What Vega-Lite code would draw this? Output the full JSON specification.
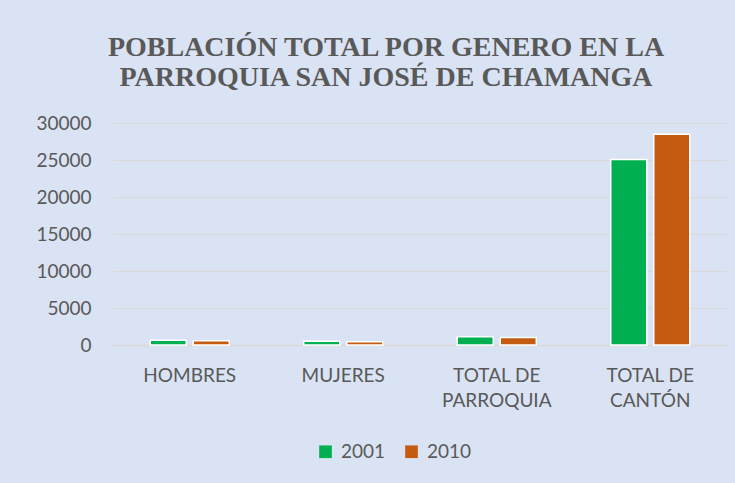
{
  "$schema": "https://vega.github.io/schema/vega-lite/v6.json",
  "width": 614,
  "height": 222,
  "autosize": {"type": "none"},
  "padding": {"left": 113, "top": 123, "right": 8, "bottom": 138},
  "background": "#DAE3F3",
  "title": {
    "text": ["POBLACIÓN TOTAL POR GENERO EN LA", "PARROQUIA SAN JOSÉ DE CHAMANGA"],
    "font": "Liberation Serif",
    "fontSize": 28,
    "fontWeight": "bold",
    "color": "#595959",
    "anchor": "middle",
    "dx": -34,
    "lineHeight": 30,
    "offset": 22
  },
  "data": {
    "values": [
      {"categoria": "HOMBRES", "anio": "2001", "poblacion": 630},
      {"categoria": "HOMBRES", "anio": "2010", "poblacion": 560},
      {"categoria": "MUJERES", "anio": "2001", "poblacion": 500},
      {"categoria": "MUJERES", "anio": "2010", "poblacion": 450},
      {"categoria": "TOTAL DE PARROQUIA", "anio": "2001", "poblacion": 1130},
      {"categoria": "TOTAL DE PARROQUIA", "anio": "2010", "poblacion": 1010},
      {"categoria": "TOTAL DE CANTÓN", "anio": "2001", "poblacion": 25080},
      {"categoria": "TOTAL DE CANTÓN", "anio": "2010", "poblacion": 28474}
    ]
  },
  "mark": {"type": "bar", "stroke": "white", "strokeWidth": 1.5},
  "encoding": {
    "x": {
      "field": "categoria",
      "type": "nominal",
      "sort": ["HOMBRES", "MUJERES", "TOTAL DE PARROQUIA", "TOTAL DE CANTÓN"],
      "scale": {"paddingInner": 0.485, "paddingOuter": 0.2425},
      "axis": {
        "title": null,
        "labelAngle": 0,
        "labelExpr": "datum.value == 'TOTAL DE PARROQUIA' ? ['TOTAL DE', 'PARROQUIA'] : datum.value == 'TOTAL DE CANTÓN' ? ['TOTAL DE', 'CANTÓN'] : datum.value",
        "labelFont": "Lato",
        "labelFontSize": 19,
        "labelColor": "#595959",
        "labelLineHeight": 25,
        "labelPadding": 21,
        "ticks": false,
        "domainColor": "#D9D9D9",
        "domainWidth": 1.5,
        "grid": false
      }
    },
    "xOffset": {
      "field": "anio",
      "type": "nominal",
      "scale": {"paddingInner": 0.163, "paddingOuter": 0}
    },
    "y": {
      "field": "poblacion",
      "type": "quantitative",
      "scale": {"domain": [0, 30000]},
      "axis": {
        "title": null,
        "values": [0, 5000, 10000, 15000, 20000, 25000, 30000],
        "format": "d",
        "labelFont": "Lato",
        "labelFontSize": 19,
        "labelColor": "#595959",
        "labelPadding": 22,
        "ticks": false,
        "domain": false,
        "gridColor": "#D9D9D9",
        "gridWidth": 1.2
      }
    },
    "color": {
      "field": "anio",
      "type": "nominal",
      "scale": {"domain": ["2001", "2010"], "range": ["#00B050", "#C55A11"]},
      "legend": {
        "title": null,
        "orient": "none",
        "direction": "horizontal",
        "legendX": 203,
        "legendY": 319,
        "symbolType": "square",
        "symbolSize": 160,
        "symbolStrokeWidth": 0,
        "labelFont": "Lato",
        "labelFontSize": 19,
        "labelColor": "#595959",
        "columnPadding": 16,
        "labelOffset": 6,
        "padding": 0
      }
    }
  },
  "config": {
    "view": {"stroke": null}
  }
}
